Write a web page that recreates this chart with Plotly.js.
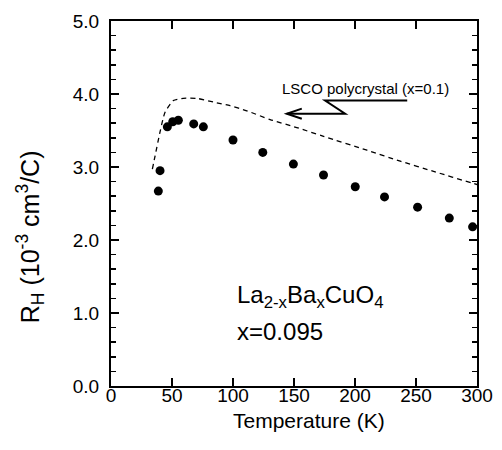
<!DOCTYPE html>
<html>
<head>
<meta charset="utf-8">
<script src="https://cdn.plot.ly/plotly-3.0.1.min.js"></script>
<style>html,body{margin:0;padding:0;background:#fff;}#chart{width:502px;height:450px;}</style>
</head>
<body>
<div id="chart"></div>
<script>
// La(2-x)Ba(x)CuO4, x=0.095 — Hall coefficient data points
const temperatureLBCO = [38.8, 40.2, 46.2, 50.6, 55.2, 67.8, 75.7, 100, 124.4, 149.5, 174.2, 200.2, 224.2, 251.3, 277.3, 296.4];
const rhLBCO = [2.67, 2.95, 3.55, 3.62, 3.64, 3.59, 3.55, 3.37, 3.20, 3.04, 2.89, 2.73, 2.59, 2.45, 2.30, 2.18];
// LSCO polycrystal (x=0.1) reference curve
const temperatureLSCO = [33.9, 36.1, 40.2, 44.3, 51.1, 59.3, 70.3, 83.9, 97.6, 111.3, 130.4, 152.3, 174.2, 209.8, 237.1, 264.4, 295.9, 300];
const rhLSCO = [2.97, 3.15, 3.48, 3.75, 3.91, 3.94, 3.94, 3.89, 3.84, 3.77, 3.65, 3.54, 3.42, 3.23, 3.08, 2.94, 2.78, 2.76];
// axis ticks
const xTicks = [0, 50, 100, 150, 200, 250, 300];
const yTicks = [0, 1, 2, 3, 4, 5];
const yTickLabels = ['0.0', '1.0', '2.0', '3.0', '4.0', '5.0'];

const FONT = 'Liberation Sans, Arial, Helvetica, sans-serif';

const traces = [
  {
    x: temperatureLSCO, y: rhLSCO, type: 'scatter', mode: 'lines',
    line: {color: '#000', width: 1.3, dash: '5px,4px', shape: 'spline', smoothing: 0.6},
    hoverinfo: 'skip', showlegend: false
  },
  {
    x: temperatureLBCO, y: rhLBCO, type: 'scatter', mode: 'markers',
    marker: {color: '#000', size: 9, symbol: 'circle'},
    cliponaxis: false, showlegend: false
  }
];

const layout = {
  width: 502, height: 450,
  margin: {l: 111, r: 25, t: 21, b: 64},
  paper_bgcolor: '#fff', plot_bgcolor: '#fff',
  font: {family: FONT, color: '#000', size: 19},
  showlegend: false,
  xaxis: {
    range: [0, 300], tickvals: xTicks, ticktext: xTicks.map(String),
    ticks: 'inside', ticklen: 8, tickwidth: 1.5, tickcolor: '#000',
    showline: true, linewidth: 2, linecolor: '#000', mirror: 'ticks',
    showgrid: false, zeroline: false, ticklabelstandoff: -9,
    tickfont: {family: FONT, size: 19, color: '#000'}
  },
  yaxis: {
    range: [0, 5], tickvals: yTicks, ticktext: yTickLabels,
    ticks: 'inside', ticklen: 8, tickwidth: 1.5, tickcolor: '#000',
    minor: {dtick: 0.2, ticks: 'inside', ticklen: 5, tickwidth: 1.5, tickcolor: '#000', showgrid: false},
    showline: true, linewidth: 2, linecolor: '#000', mirror: 'ticks',
    showgrid: false, zeroline: false, ticklabelstandoff: 6,
    tickfont: {family: FONT, size: 19, color: '#000'}
  },
  shapes: [
    {type: 'path', xref: 'x', yref: 'y',
     path: 'M 242.8,3.91 L 175.5,3.91 L 191.9,3.73 L 144.1,3.73',
     line: {color: '#000', width: 2}},
    {type: 'path', xref: 'x', yref: 'y',
     path: 'M 156.4,3.80 L 144.1,3.73 L 156.4,3.66',
     line: {color: '#000', width: 2}}
  ],
  annotations: [
    {text: 'Temperature (K)', xref: 'paper', yref: 'paper', x: 0.54, y: -0.095,
     xanchor: 'center', yanchor: 'middle', showarrow: false,
     font: {family: FONT, size: 21, color: '#000'}},
    {text: 'R<sub>H</sub> (10<sup>-3</sup> cm<sup>3</sup>/C)', xref: 'paper', yref: 'paper',
     x: -0.219, y: 0.41, textangle: -90, xanchor: 'center', yanchor: 'middle', showarrow: false,
     font: {family: FONT, size: 25, color: '#000'}},
    {text: 'LSCO polycrystal (x=0.1)', xref: 'x', yref: 'y', x: 209, y: 4.08,
     xanchor: 'center', yanchor: 'middle', showarrow: false,
     font: {family: FONT, size: 15, color: '#000'}},
    {text: 'La<sub>2-x</sub>Ba<sub>x</sub>CuO<sub>4</sub>', xref: 'x', yref: 'y', x: 101.5, y: 1.22,
     xanchor: 'left', yanchor: 'middle', showarrow: false,
     font: {family: FONT, size: 24, color: '#000'}},
    {text: 'x=0.095', xref: 'x', yref: 'y', x: 101.5, y: 0.75,
     xanchor: 'left', yanchor: 'middle', showarrow: false,
     font: {family: FONT, size: 24, color: '#000'}}
  ]
};

Plotly.newPlot('chart', traces, layout, {displayModeBar: false, staticPlot: true});
</script>
</body>
</html>
